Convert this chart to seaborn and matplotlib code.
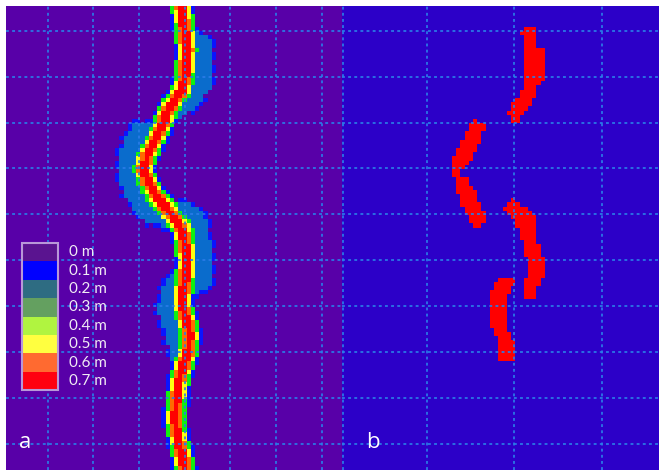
import numpy as np
import pandas as pd
import seaborn as sns
import matplotlib
matplotlib.use("Agg")
import matplotlib.pyplot as plt
from matplotlib.colors import ListedColormap
from matplotlib.path import Path
from matplotlib.patches import Rectangle

# ---------------- data (grid-cell units: row from top, column from left) ----
# panel a: channel centre line
center_row = [0, 6, 10.5, 17, 20, 22.5, 24.9, 28, 32, 35.6, 38.8, 41.6, 45.2, 47.6, 50,
              53.6, 60.8, 65.6, 69.1, 71.8, 75.1, 78.7, 82.8, 87.1, 90.7, 93.8, 99,
              103.8, 107.4, 111]
center_col = [41.7, 42.6, 43.1, 42.6, 41.9, 40.2, 38.6, 37.4, 35.5, 33.8, 32.6, 33.6, 35.5,
              37.4, 39.5, 42.1, 43.1, 42.6, 42.1, 41.9, 43.1, 43.8, 43.3, 41.9, 41.0,
              40.7, 40.2, 41.0, 41.9, 42.6]

# panel a: shallow-flooded (0.1-0.2 m) zones on the outer banks
halo1_row = [5.7, 6.5, 8.1, 18.9, 21.3, 23.7, 25.6, 27.0, 24.9, 20.1, 5.7]
halo1_col = [42.6, 46.2, 48.6, 48.8, 47.4, 45.5, 43.3, 40.2, 37.9, 41.0, 41.4]
halo2_row = [27.8, 28.2, 30.9, 34.4, 38.8, 42.8, 46.4, 49.3, 51.7, 52.4, 50.0, 38.8, 27.8]
halo2_col = [34.3, 30.7, 28.8, 27.6, 26.9, 27.6, 29.0, 30.9, 33.1, 37.9, 39.5, 32.6, 36.7]
halo3_row = [47.1, 48.8, 51.2, 56.0, 63.2, 66.7, 68.4, 68.4, 53.6, 47.6]
halo3_col = [43.8, 46.2, 47.6, 48.3, 48.6, 48.6, 46.2, 43.3, 41.4, 40.2]
halo4_row = [64.4, 64.8, 67.9, 72.7, 76.3, 79.9, 84.2, 84.7, 77.5, 65.6]
halo4_col = [41.4, 38.6, 37.4, 36.4, 37.4, 38.6, 39.0, 41.4, 42.6, 42.6]

# panel b: eroded zones (row, left col, right col)
blob1_row = [5.7, 5.7, 9.8, 10.0, 18.4, 18.7, 21.8, 22.0, 24.2, 24.9, 26.8, 28.2,
             28.2, 26.8, 26.6, 24.9, 24.4, 22.0, 20.8, 17.7, 7.7, 7.4]
blob1_col = [42.6, 46.1, 46.1, 47.3, 47.3, 46.1, 46.1, 45.2, 44.2, 42.6, 42.1, 42.1,
             40.5, 40.5, 39.3, 39.3, 40.2, 41.2, 42.1, 43.5, 43.5, 42.6]
blob2_row = [27.5, 28.7, 30.9, 33.3, 35.6, 37.6, 39.7, 41.6, 44.0, 46.4, 48.8, 50.7, 52.4]
blob2_left = [31.2, 30.0, 29.1, 28.2, 27.0, 26.0, 26.0, 27.0, 27.2, 28.2, 29.1, 30.0, 31.2]
blob2_right = [31.9, 34.1, 33.1, 32.2, 31.2, 29.8, 27.4, 29.8, 31.2, 32.2, 33.1, 34.1, 33.1]
blob3_row = [46.4, 48.3, 50.0, 52.4, 56.0, 59.6, 63.2, 65.6, 67.9, 69.9]
blob3_left = [40.5, 38.3, 39.3, 41.4, 42.6, 43.5, 44.5, 43.5, 43.5, 43.5]
blob3_right = [41.4, 43.3, 45.2, 46.1, 46.1, 47.3, 47.3, 47.3, 46.1, 46.1]
blob4_row = [64.8, 66.7, 69.1, 72.7, 76.3, 78.0, 79.9, 82.8, 84.0, 85.2]
blob4_left = [37.1, 36.2, 35.2, 35.2, 35.2, 36.2, 37.1, 37.1, 36.2, 39.3]
blob4_right = [40.5, 40.5, 39.3, 38.3, 38.3, 39.3, 40.5, 40.5, 40.5, 40.5]

legend_labels = ["0 m", "0.1 m", "0.2 m", "0.3 m", "0.4 m", "0.5 m", "0.6 m", "0.7 m"]
legend_colors = ["#5a1490", "#0000ff", "#2e6c82", "#64a060", "#b0f440", "#ffff40",
                 "#ff6a30", "#ff0010"]
panel_labels = ["a", "b"]

# ---------------- build rasters ----------------
NROW, NCOL_A, NCOL_B = 111, 80, 75


def cell_centres(ncol):
    rr, cc = np.mgrid[0:NROW, 0:ncol]
    return rr + 0.5, cc + 0.5


def inside(rows, cols, ncol):
    """cell is filled when at least one of its four quarter points lies in the polygon"""
    path = Path(np.column_stack([cols, rows]))
    rr, cc = np.mgrid[0:NROW, 0:ncol]
    hits = np.zeros((NROW, ncol), dtype=int)
    for dr in (0.25, 0.75):
        for dc in (0.25, 0.75):
            pts = np.column_stack([(cc + dc).ravel(), (rr + dr).ravel()])
            hits += path.contains_points(pts).reshape(NROW, ncol)
    return hits >= 2


def band(rows, left, right, ncol):
    return inside(list(rows) + list(rows)[::-1], list(left) + list(right)[::-1], ncol)


rr, cc = cell_centres(NCOL_A)
pr, pc = np.array(center_row), np.array(center_col)
dist = np.full(rr.shape, np.inf)
for i in range(len(pr) - 1):
    ar, ac, br, bc = pr[i], pc[i], pr[i + 1], pc[i + 1]
    vr, vc = br - ar, bc - ac
    t = np.clip(((rr - ar) * vr + (cc - ac) * vc) / (vr * vr + vc * vc), 0, 1)
    d = np.hypot(rr - (ar + t * vr), cc - (ac + t * vc))
    dist = np.minimum(dist, d)

halo = (inside(halo1_row, halo1_col, NCOL_A) | inside(halo2_row, halo2_col, NCOL_A) |
        inside(halo3_row, halo3_col, NCOL_A) | inside(halo4_row, halo4_col, NCOL_A))

grid_a = np.zeros((NROW, NCOL_A), dtype=int)
rim = np.zeros_like(halo)
rim[1:, :] |= halo[:-1, :]
rim[:-1, :] |= halo[1:, :]
rim[:, 1:] |= halo[:, :-1]
rim[:, :-1] |= halo[:, 1:]
grid_a[rim & ~halo & ((rr + cc).astype(int) % 3 != 0)] = 1
grid_a[dist < 3.0] = 1
grid_a[halo] = 2
grid_a[dist < 2.4] = 3
grid_a[dist < 1.85] = 4
grid_a[dist < 1.4] = 5
grid_a[dist < 0.9] = 6

grid_b = np.zeros((NROW, NCOL_B), dtype=int)
grid_b[inside(blob1_row, blob1_col, NCOL_B)] = 1
grid_b[band(blob2_row, blob2_left, blob2_right, NCOL_B)] = 1
grid_b[band(blob3_row, blob3_left, blob3_right, NCOL_B)] = 1
grid_b[band(blob4_row, blob4_left, blob4_right, NCOL_B)] = 1

map_colors_a = ["#5800a8", "#0a14ff", "#0a6ccc", "#10f010", "#ffff10", "#ff6a00", "#ff0000"]
map_colors_b = ["#2c00c8", "#ff0000"]

# ---------------- draw ----------------
W, H = 659, 470
fig = plt.figure(figsize=(W / 100, H / 100), dpi=100)
fig.patch.set_facecolor("white")
ax_a = fig.add_axes([6 / W, 0, 336 / W, 464 / H])
ax_b = fig.add_axes([342 / W, 0, 317 / W, 464 / H])

sns.heatmap(pd.DataFrame(grid_a), ax=ax_a, cmap=ListedColormap(map_colors_a),
            vmin=-0.5, vmax=len(map_colors_a) - 0.5, cbar=False,
            xticklabels=False, yticklabels=False)
sns.heatmap(pd.DataFrame(grid_b), ax=ax_b, cmap=ListedColormap(map_colors_b),
            vmin=-0.5, vmax=1.5, cbar=False, xticklabels=False, yticklabels=False)

grid_kw = dict(color="#2a7ce8", lw=1.3, ls=(0, (1.6, 1.8)), alpha=0.95)
for ax, vx in ((ax_a, [10, 20.7, 31.6, 42.6, 53.3, 64.2, 75.2]),
               (ax_b, [0.15, 20.1, 40.8, 61.4])):
    for x in vx:
        ax.axvline(x, **grid_kw)
    for y in [6.0, 17.0, 28.0, 38.8, 49.8, 60.8, 71.8, 82.8, 93.8, 104.8]:
        ax.axhline(y, **grid_kw)
    for s in ax.spines.values():
        s.set_visible(False)

# legend (stacked swatches)
lx, lw_, top, sh = 22, 36, 243, 18.4
for i, (lab, col) in enumerate(zip(legend_labels, legend_colors)):
    y0 = H - (top + (i + 1) * sh)
    fig.add_artist(Rectangle((lx / W, y0 / H), lw_ / W, sh / H, transform=fig.transFigure,
                             facecolor=col, edgecolor="none"))
    fig.text(69 / W, (y0 + sh / 2) / H, lab, color="#f0ecf4", fontsize=11,
             family="Lato", va="center", ha="left")
fig.add_artist(Rectangle((lx / W, (H - top - 8 * sh) / H), lw_ / W, 8 * sh / H,
                         transform=fig.transFigure, facecolor="none",
                         edgecolor="#b898d8", lw=1.5))

fig.text(19 / W, (H - 448) / H, panel_labels[0], color="white", fontsize=16,
         family="Open Sans", ha="left", va="baseline")
fig.text(366 / W, (H - 448) / H, panel_labels[1], color="white", fontsize=16,
         family="Open Sans", ha="left", va="baseline")

fig.savefig("out.png", dpi=100)
